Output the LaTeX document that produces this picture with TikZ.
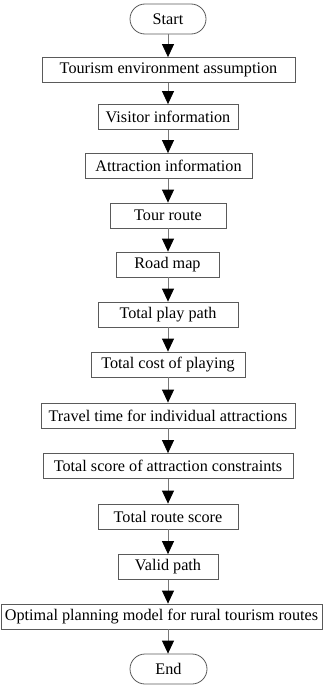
\documentclass[tikz,border=0pt]{standalone}
\usepackage{fontspec}
\setmainfont{Liberation Serif}
\usetikzlibrary{arrows.meta}
\definecolor{linegray}{RGB}{120,120,120}
\definecolor{boxgray}{RGB}{90,90,90}
\begin{document}
\begin{tikzpicture}[x=1pt,y=-1pt,
  stepbox/.style={draw=boxgray,line width=0.8pt,rectangle,minimum height=25pt,inner sep=0pt,font=\fontsize{16.2}{19}\selectfont},
  term/.style={draw=boxgray,line width=0.8pt,rectangle,rounded corners=15pt,minimum height=30pt,inner sep=0pt,font=\fontsize{16.2}{19}\selectfont},
  arr/.style={draw=linegray,line width=0.8pt,-{Triangle[length=13pt,width=12pt,black]}}]
\useasboundingbox (0,0) rectangle (323,685);
\node[term,minimum width=76pt] (s) at (168,19) {Start};
\node[stepbox,minimum width=253pt] (b1) at (168.5,70) {Tourism environment assumption};
\node[stepbox,minimum width=140pt] (b2) at (168,117) {Visitor information};
\node[stepbox,minimum width=167pt] (b3) at (168.5,166) {Attraction information};
\node[stepbox,minimum width=116pt] (b4) at (168,215.5) {Tour route};
\node[stepbox,minimum width=103pt] (b5) at (167.5,264.5) {Road map};
\node[stepbox,minimum width=140pt] (b6) at (168,314.5) {Total play path};
\node[stepbox,minimum width=154pt] (b7) at (168,364.5) {Total cost of playing};
\node[stepbox,minimum width=254pt] (b8) at (168,415.5) {Travel time for individual attractions};
\node[stepbox,minimum width=250pt] (b9) at (168,466) {Total score of attraction constraints};
\node[stepbox,minimum width=140pt] (b10) at (168,516.5) {Total route score};
\node[stepbox,minimum width=100pt] (b11) at (168,567) {Valid path};
\node[stepbox,minimum width=321pt] (b12) at (161.5,616.5) {Optimal planning model for rural tourism routes};
\node[term,minimum width=77pt] (e) at (168.5,669) {End};
\foreach \a/\b in {s/b1,b1/b2,b2/b3,b3/b4,b4/b5,b5/b6,b6/b7,b7/b8,b8/b9,b9/b10,b10/b11,b11/b12}
  \draw[arr] (\a.south -| s.south) -- (\b.north -| s.south);
\draw[arr] (b12.south -| s.south) -- (e.north -| s.south);
\end{tikzpicture}
\end{document}
